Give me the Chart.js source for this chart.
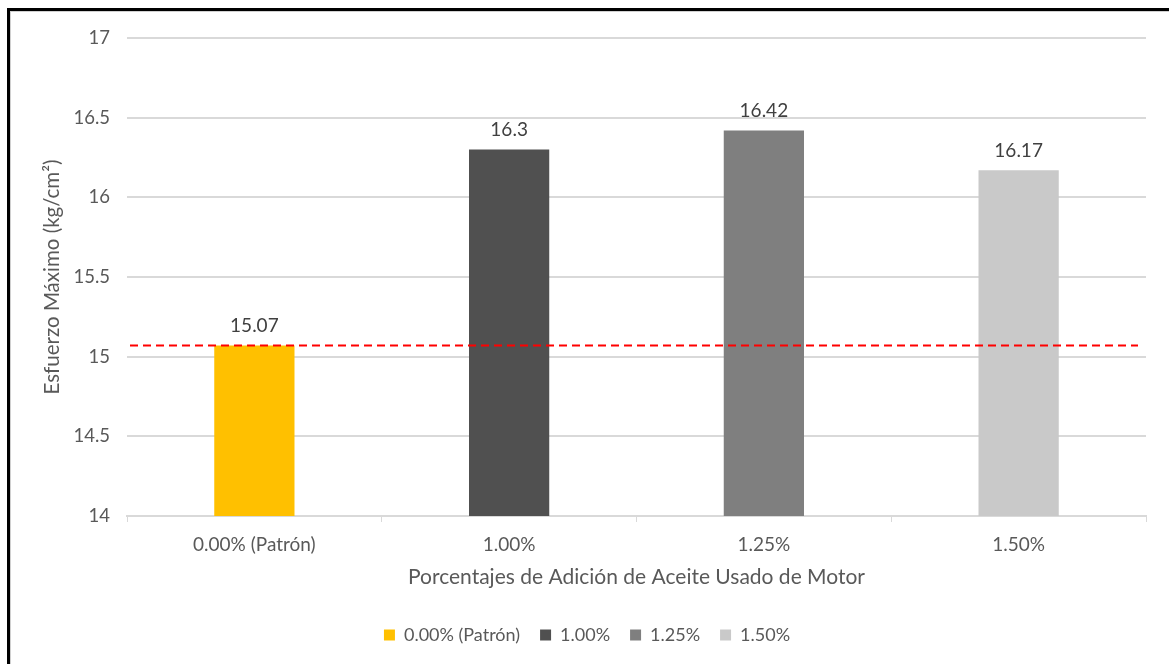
<!DOCTYPE html>
<html>
<head>
<meta charset="utf-8">
<script src="https://cdn.jsdelivr.net/npm/chart.js@4/dist/chart.umd.min.js"></script>
<style>
  html, body { margin: 0; padding: 0; background: #fff; overflow: hidden; }
  #frame {
    position: absolute; left: 7px; top: 8px; width: 1200px; height: 700px;
    border: 3px solid #000; box-shadow: inset 1px 1px 0 #d0d0d0;
  }
  #wrap { position: absolute; left: 0; top: 0; width: 1169px; height: 664px; }
</style>
</head>
<body>
<div id="frame"></div>
<div id="wrap"><canvas id="myChart"></canvas></div>
<script>
var categories = ['0.00% (Patrón)', '1.00%', '1.25%', '1.50%'];
var esfuerzo = [15.07, 16.3, 16.42, 16.17];
var barColors = ['#FFC000', '#505050', '#7F7F7F', '#C9C9C9'];
var patronRef = 15.07;   // horizontal reference at the control sample

var fontFam = 'Lato, "Open Sans", sans-serif';
var gridCol = '#d9d9d9';
var textCol = '#595959';

// dashed reference line across the plot
var refLine = {
    id: 'refLine',
    afterDatasetsDraw(chart) {
        var ctx = chart.ctx, area = chart.chartArea;
        var y = chart.scales.y.getPixelForValue(patronRef);
        ctx.save();
        ctx.strokeStyle = '#FF0000';
        ctx.lineWidth = 2;
        ctx.setLineDash([8, 5]);
        ctx.beginPath();
        ctx.moveTo(area.left + 3, y);
        ctx.lineTo(area.right - 8, y);
        ctx.stroke();
        ctx.restore();
    }
};

// value labels above the bars
var barValues = {
    id: 'barValues',
    afterDatasetsDraw(chart) {
        var ctx = chart.ctx;
        var meta = chart.getDatasetMeta(0);
        ctx.save();
        ctx.font = '19px ' + fontFam;
        ctx.fillStyle = '#404040';
        ctx.textAlign = 'center';
        ctx.textBaseline = 'bottom';
        meta.data.forEach((bar, i) => {
            ctx.fillText(String(esfuerzo[i]), bar.x, bar.y - 10);
        });
        ctx.restore();
    }
};

new Chart('myChart', {
    type: 'bar',
    data: {
        labels: categories,
        datasets: [{
            data: esfuerzo,
            backgroundColor: barColors,
            categoryPercentage: 1,
            barPercentage: 0.315
        }]
    },
    options: {
        responsive: true,
        maintainAspectRatio: false,
        animation: false,
        layout: { padding: { left: 28, right: 23, top: 38, bottom: 10 } },
        plugins: {
            tooltip: { enabled: false },
            legend: {
                position: 'bottom',
                onClick: null,
                labels: {
                    color: textCol,
                    font: { family: fontFam, size: 18 },
                    boxWidth: 11,
                    boxHeight: 11,
                    padding: 20,
                    generateLabels: () => categories.map((c, i) => ({
                        text: c,
                        fillStyle: barColors[i],
                        strokeStyle: barColors[i],
                        lineWidth: 0,
                        fontColor: textCol,
                        index: i
                    }))
                }
            }
        },
        scales: {
            x: {
                grid: {
                    display: true,
                    offset: true,
                    drawOnChartArea: false,
                    drawTicks: true,
                    tickLength: 6,
                    color: gridCol
                },
                border: { display: true, color: gridCol, width: 2 },
                ticks: { color: textCol, font: { family: fontFam, size: 19, lineHeight: 1.0 }, padding: 13 },
                title: {
                    display: true,
                    text: 'Porcentajes de Adición de Aceite Usado de Motor',
                    color: textCol,
                    font: { family: fontFam, size: 21, lineHeight: 1.0 },
                    padding: { top: 0, bottom: 18 }
                }
            },
            y: {
                min: 14,
                max: 17,
                afterFit: (scale) => { scale.width = 99; },
                ticks: {
                    stepSize: 0.5,
                    color: textCol,
                    font: { family: fontFam, size: 18.5 },
                    padding: 17,
                    callback: (v) => String(v)
                },
                grid: { color: gridCol, lineWidth: 2, drawTicks: false },
                border: { display: false },
                title: {
                    display: true,
                    text: 'Esfuerzo Máximo (kg/cm²)',
                    color: textCol,
                    font: { family: fontFam, size: 20.5 },
                    padding: { top: 12, bottom: 6 }
                }
            }
        }
    },
    plugins: [refLine, barValues]
});
</script>
</body>
</html>
